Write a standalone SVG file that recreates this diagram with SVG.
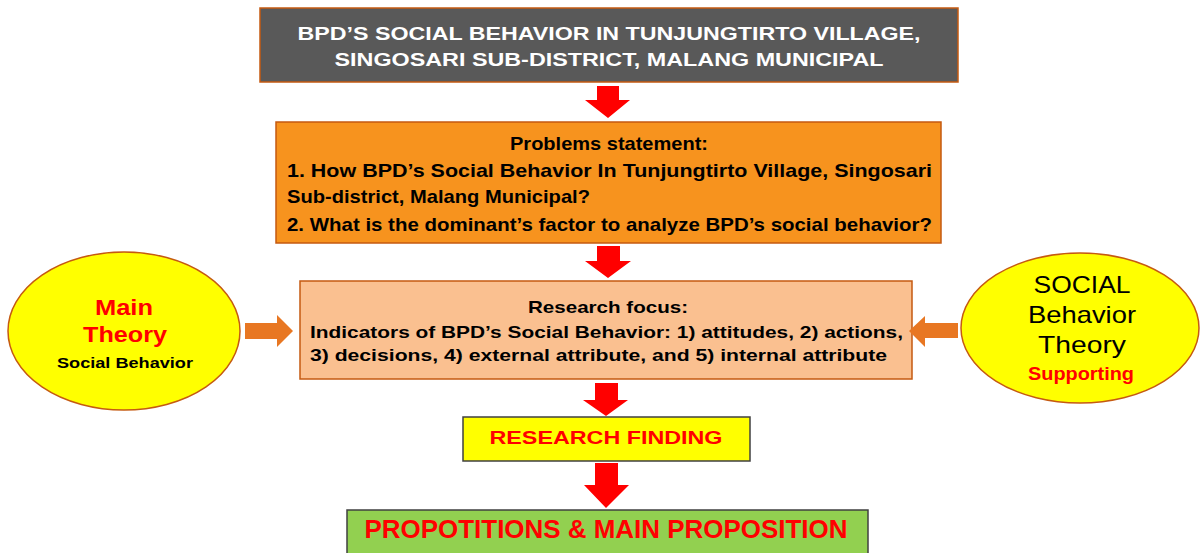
<svg xmlns="http://www.w3.org/2000/svg" width="1200" height="553" viewBox="0 0 1200 553">
<style>
text{font-family:"Liberation Sans",Arial,sans-serif;font-weight:bold}
.c{text-anchor:middle}
.red{fill:#FF0000}
.n{font-weight:normal}
.rd{fill:#FF0000}
.or{fill:#E87722}
</style>
<rect width="1200" height="553" fill="#fff"/>
<g id="title">
<rect x="260" y="8" width="698" height="74" fill="#595959" stroke="#C55A11" stroke-width="1.5"/>
<text x="609" y="40" class="c" fill="#fff" font-size="19" textLength="623" lengthAdjust="spacingAndGlyphs">BPD’S SOCIAL BEHAVIOR IN TUNJUNGTIRTO VILLAGE,</text>
<text x="609" y="66" class="c" fill="#fff" font-size="19" textLength="549" lengthAdjust="spacingAndGlyphs">SINGOSARI SUB-DISTRICT, MALANG MUNICIPAL</text>
</g>
<g id="problems">
<rect x="276" y="122" width="665" height="121" fill="#F7931E" stroke="#C55A11" stroke-width="1.5"/>
<text x="609" y="150" class="c" font-size="19" textLength="198" lengthAdjust="spacingAndGlyphs">Problems statement:</text>
<text x="287" y="177" font-size="19" textLength="645" lengthAdjust="spacingAndGlyphs">1. How BPD’s Social Behavior In Tunjungtirto Village, Singosari</text>
<text x="287" y="203" font-size="19" textLength="303" lengthAdjust="spacingAndGlyphs">Sub-district, Malang Municipal?</text>
<text x="287" y="231" font-size="19" textLength="645" lengthAdjust="spacingAndGlyphs">2. What is the dominant’s factor to analyze BPD’s social behavior?</text>
</g>
<g id="focus">
<rect x="300" y="281" width="612" height="98" fill="#FAC090" stroke="#C55A11" stroke-width="1.5"/>
<text x="608" y="313" class="c" font-size="17" textLength="160" lengthAdjust="spacingAndGlyphs">Research focus:</text>
<text x="310" y="338" font-size="17" textLength="593" lengthAdjust="spacingAndGlyphs">Indicators of  BPD’s Social Behavior: 1) attitudes, 2) actions,</text>
<text x="310" y="361" font-size="17" textLength="577" lengthAdjust="spacingAndGlyphs">3) decisions,  4) external attribute,  and 5) internal attribute</text>
</g>
<g id="main-theory">
<ellipse cx="124" cy="331" rx="116" ry="79" fill="#FFFF00" stroke="#C55A11" stroke-width="1.5"/>
<text x="124" y="315" class="c red" font-size="22" textLength="58" lengthAdjust="spacingAndGlyphs">Main</text>
<text x="125" y="342" class="c red" font-size="22" textLength="84" lengthAdjust="spacingAndGlyphs">Theory</text>
<text x="125" y="368" class="c" font-size="15" textLength="136" lengthAdjust="spacingAndGlyphs">Social Behavior</text>
</g>
<g id="supporting-theory">
<ellipse cx="1080" cy="328" rx="119" ry="75" fill="#FFFF00" stroke="#C55A11" stroke-width="1.5"/>
<text x="1082" y="293" class="c n" font-size="24" textLength="97" lengthAdjust="spacingAndGlyphs">SOCIAL</text>
<text x="1082" y="323" class="c n" font-size="24" textLength="108" lengthAdjust="spacingAndGlyphs">Behavior</text>
<text x="1082" y="353" class="c n" font-size="24" textLength="88" lengthAdjust="spacingAndGlyphs">Theory</text>
<text x="1081" y="380" class="c red" font-size="18" textLength="106" lengthAdjust="spacingAndGlyphs">Supporting</text>
</g>
<g id="finding">
<rect x="463" y="417" width="287" height="44" fill="#FFFF00" stroke="#404040" stroke-width="1.5"/>
<text x="606" y="444" class="c red" font-size="19" textLength="233" lengthAdjust="spacingAndGlyphs">RESEARCH FINDING</text>
</g>
<g id="propositions">
<rect x="347" y="510" width="521" height="50" fill="#92D050" stroke="#404040" stroke-width="1.5"/>
<text x="606" y="538" class="c red" font-size="25" textLength="483" lengthAdjust="spacingAndGlyphs">PROPOTITIONS &amp; MAIN PROPOSITION</text>
</g>
<g id="connectors">
<path class="rd" d="M597 86 H619 V100 H630 L608 118 L585 100 H597 Z"/>
<path class="rd" d="M597 246 H620 V261 H631 L608 278 L585 261 H597 Z"/>
<path class="rd" d="M595 383 H618 V400 H628 L606 416 L583 400 H595 Z"/>
<path class="rd" d="M595 463 H618 V485 H629 L606 508 L584 485 H595 Z"/>
<path class="or" d="M245 323 H277 V315 L293 331 L277 347 V339 H245 Z"/>
<path class="or" d="M958 323 H925 V316 L909 331 L925 347 V338 H958 Z"/>
</g>
</svg>
